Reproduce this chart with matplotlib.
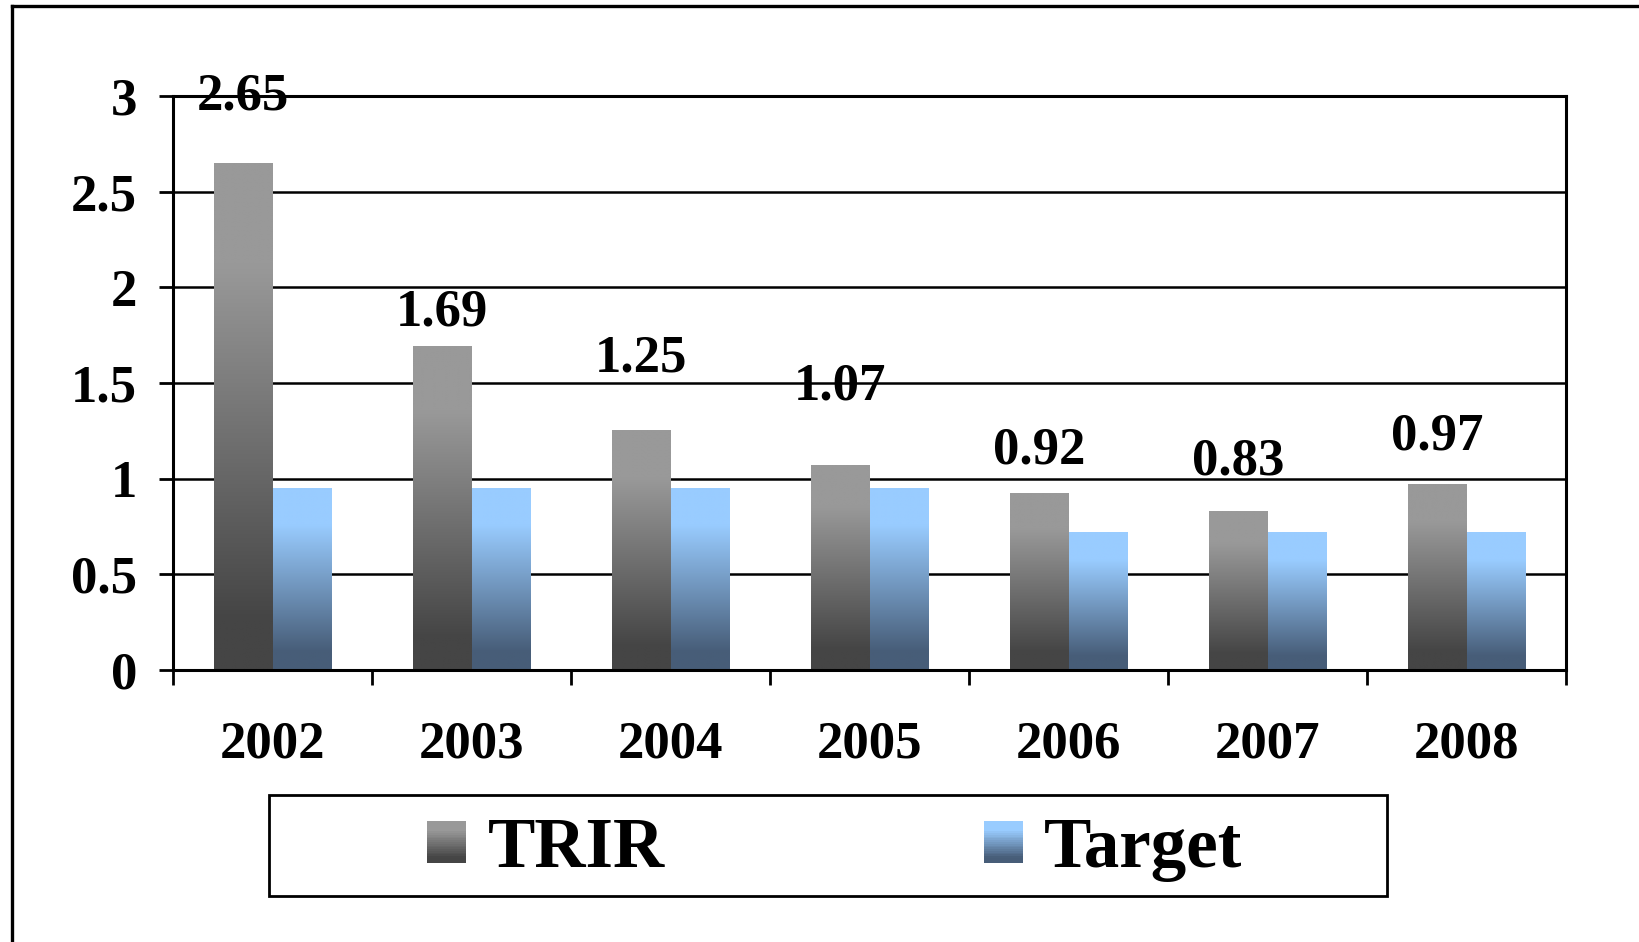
import numpy as np
import matplotlib
matplotlib.use("Agg")
import matplotlib.pyplot as plt
from matplotlib.patches import Patch, Rectangle
from matplotlib.lines import Line2D
from matplotlib.legend_handler import HandlerBase
from matplotlib.colors import to_rgb

# =============================================================================
# * Data
# =============================================================================

years = ["2002", "2003", "2004", "2005", "2006", "2007", "2008"]
trir = [2.65, 1.69, 1.25, 1.07, 0.92, 0.83, 0.97]
target = [0.95, 0.95, 0.95, 0.95, 0.72, 0.72, 0.72]
series_names = ["TRIR", "Target"]
y_ticks = [0, 0.5, 1, 1.5, 2, 2.5, 3]

# how far each TRIR label sits above its bar (data units)
label_lift = [0.35, 0.18, 0.38, 0.41, 0.23, 0.26, 0.25]

GRAY_TOP, GRAY_BOTTOM = "#999999", "#454545"
BLUE_TOP, BLUE_BOTTOM = "#99ccff", "#475d78"
FONT = "Liberation Serif"

plt.rcParams["font.family"] = FONT
plt.rcParams["font.weight"] = "bold"


# =============================================================================
# * Gradient helpers
# =============================================================================

def shade(t, top, bottom):
    # t = 0 at top of bar, 1 at bottom
    k = np.clip((t - 0.2) / 0.7, 0, 1)
    a = np.array(to_rgb(top))
    b = np.array(to_rgb(bottom))
    return a + (b - a) * k


def gradient_strip(top, bottom, n=200):
    ts = np.linspace(0, 1, n)
    return np.array([shade(t, top, bottom) for t in ts]).reshape(n, 1, 3)


def paint_bars(ax, bars, top, bottom):
    img = gradient_strip(top, bottom)
    for rect in bars:
        x0 = rect.get_x()
        w = rect.get_width()
        h = rect.get_height()
        ax.imshow(img, extent=[x0, x0 + w, 0, h], aspect="auto",
                  origin="upper", zorder=2, interpolation="bilinear")


class GradientHandler(HandlerBase):
    def __init__(self, top, bottom):
        super().__init__()
        self.top = top
        self.bottom = bottom

    def create_artists(self, legend, orig_handle, xdescent, ydescent,
                       width, height, fontsize, trans):
        n = 24
        arts = []
        for i in range(n):
            t = (i + 0.5) / n
            y = -ydescent + height * (1 - (i + 1) / n)
            r = Rectangle((-xdescent, y), width, height / n * 1.05,
                          facecolor=shade(t * 1.1 - 0.05, self.top, self.bottom),
                          edgecolor="none", transform=trans)
            arts.append(r)
        return arts


# =============================================================================
# * Plot
# =============================================================================

fig = plt.figure(figsize=(16.4, 9.42), dpi=100)
ax = fig.add_axes([0.1055, 0.2887, 0.8494, 0.6093])

x = np.arange(len(years))
w = 0.295
bars_trir = ax.bar(x - w / 2, trir, w, color="none", linewidth=0)
bars_target = ax.bar(x + w / 2, target, w, color="none", linewidth=0)
paint_bars(ax, bars_trir, GRAY_TOP, GRAY_BOTTOM)
paint_bars(ax, bars_target, BLUE_TOP, BLUE_BOTTOM)

for xi, v, lift in zip(x, trir, label_lift):
    ax.text(xi - w / 2, v + lift, f"{v:.2f}", ha="center", va="center",
            fontsize=38, fontweight="bold", clip_on=False, zorder=5)

ax.set_xlim(-0.5, len(years) - 0.5)
ax.set_ylim(0, 3)

ax.set_yticks(y_ticks)
ax.set_yticklabels([f"{v:g}" for v in y_ticks], fontsize=38, fontweight="bold")
ax.tick_params(axis="y", direction="out", length=10, width=2, pad=16)

ax.set_xticks(np.arange(-0.5, len(years)))
ax.set_xticklabels([])
ax.set_xticks(x, minor=True)
ax.set_xticklabels(years, minor=True, fontsize=38, fontweight="bold")
ax.tick_params(axis="x", which="major", direction="out", length=11, width=2)
ax.tick_params(axis="x", which="minor", length=0, pad=36)

ax.set_axisbelow(True)
ax.yaxis.grid(True, color="black", linewidth=1.8)
for side in ["left", "bottom", "right", "top"]:
    ax.spines[side].set_linewidth(2.2)
    ax.spines[side].set_color("black")

# legend (frame drawn separately to match the wide box)
proxies = [Patch(label=series_names[0]), Patch(label=series_names[1])]
fig.legend(handles=proxies, loc="center", bbox_to_anchor=(0.509, 0.098),
           ncol=2, frameon=False, prop={"family": FONT, "weight": "bold", "size": 51},
           handlelength=0.55, handleheight=0.55, handletextpad=0.3,
           columnspacing=4.5,
           handler_map={proxies[0]: GradientHandler(GRAY_TOP, GRAY_BOTTOM),
                        proxies[1]: GradientHandler(BLUE_TOP, BLUE_BOTTOM)})
fig.add_artist(Rectangle((0.164, 0.0488), 0.682, 0.107, transform=fig.transFigure,
                         fill=False, edgecolor="black", linewidth=2))

# outer chart frame (top and left edges)
fig.add_artist(Line2D([0.0076, 1.0], [0.9936, 0.9936], transform=fig.transFigure,
                      color="black", linewidth=2.4))
fig.add_artist(Line2D([0.0076, 0.0076], [0.0, 0.9936], transform=fig.transFigure,
                      color="black", linewidth=2.4))

fig.savefig("out.png", dpi=100)
